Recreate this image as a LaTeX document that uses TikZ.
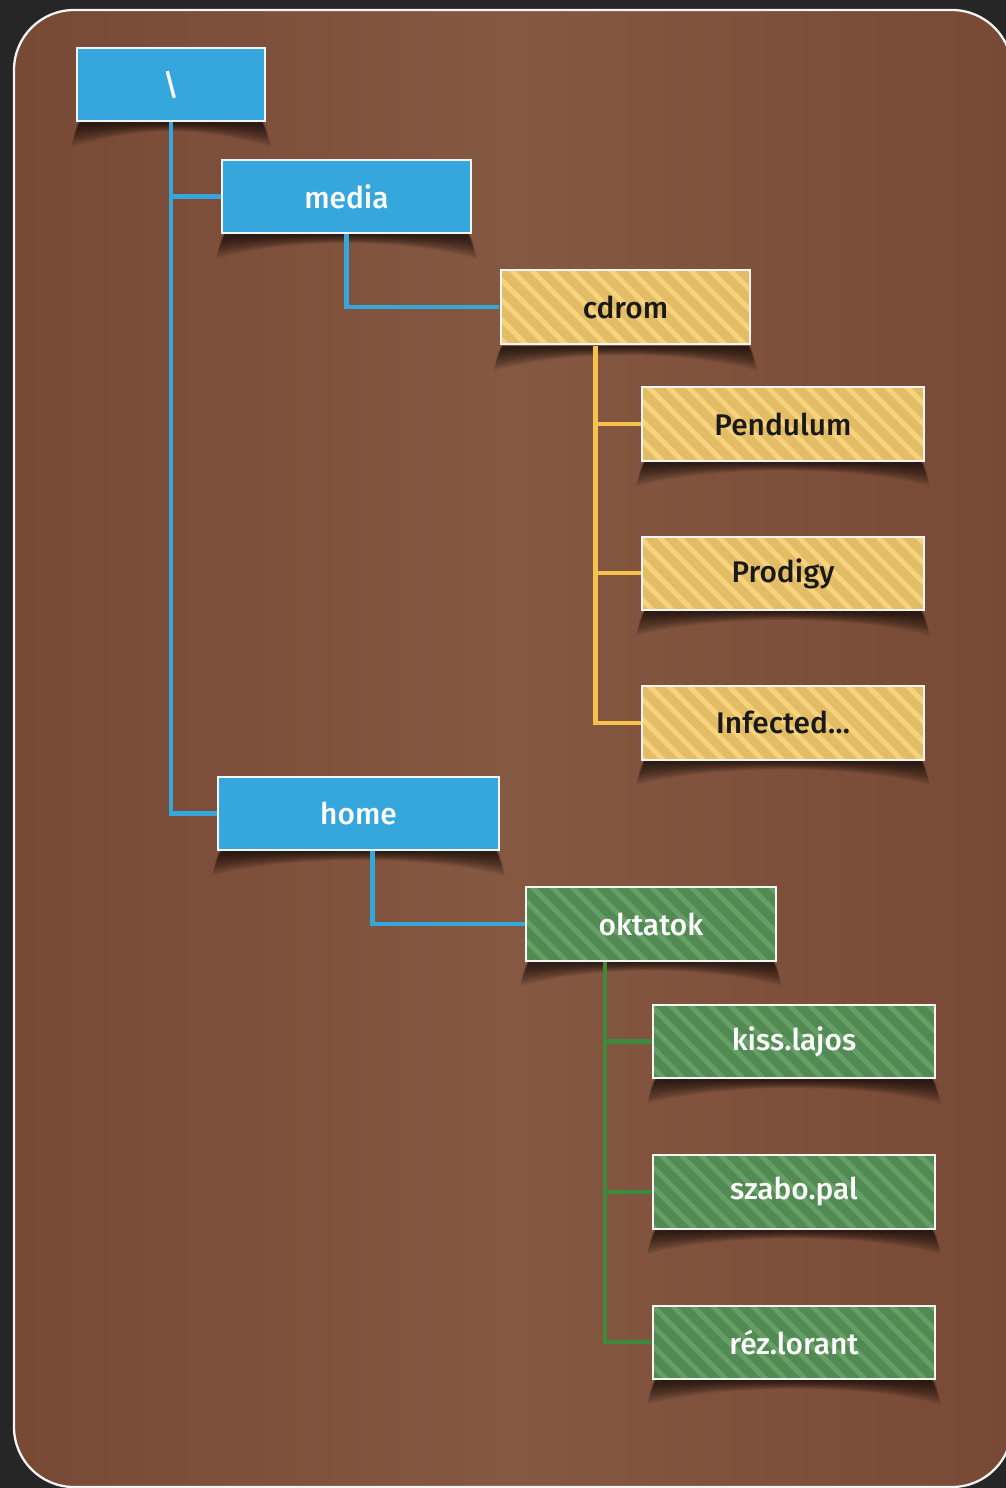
\documentclass[tikz,border=0pt]{standalone}
\usepackage{fontspec}
\setmainfont{Fira Sans}[BoldFont={Fira Sans Medium}]
\usetikzlibrary{positioning,patterns.meta,calc}

\definecolor{backdrop}{HTML}{262626}
\definecolor{panelside}{HTML}{784935}
\definecolor{panelmid}{HTML}{855842}
\definecolor{dirblue}{HTML}{35A7DC}
\definecolor{cdyellow}{HTML}{E3BC66}
\definecolor{cdstripe}{HTML}{F7D37D}
\definecolor{usergreen}{HTML}{528A53}
\definecolor{userstripe}{HTML}{67A066}
\definecolor{cdline}{HTML}{F5C24E}
\definecolor{userline}{HTML}{3E8A3C}
\definecolor{boxedge}{HTML}{F4F4F4}

\pgfdeclarelayer{panel}
\pgfdeclarelayer{shade}
\pgfsetlayers{panel,shade,main}

% curled shadow under a box
\newcommand\curlshadow[1]{%
  \foreach \d in {2,3,...,14}{
    \fill[black, opacity=0.07]
      ([xshift=2pt]#1.south west)
      -- ([xshift={-0.2*\d pt}, yshift={-\d pt}]#1.south west)
      .. controls ([xshift=1.4cm, yshift={-0.15*\d pt}]#1.south west)
         and ([xshift=-1.4cm, yshift={-0.15*\d pt}]#1.south east)
      .. ([xshift={0.2*\d pt}, yshift={-\d pt}]#1.south east)
      -- ([xshift=-2pt]#1.south east) -- cycle;}}

\begin{document}
\begin{tikzpicture}
        [x=0.02cm, y=-0.02cm,
        box/.style={rectangle, draw=boxedge, line width=1.1pt, minimum height=1.47cm, inner sep=0pt, font=\fontsize{17}{20}\selectfont\bfseries},
        sysdir/.style={box, fill=dirblue, text=white},
        cdfile/.style={box, text=black!90, minimum width=5.64cm, preaction={fill=cdyellow}, pattern={Lines[angle=-45, distance=8pt, line width=2.8pt]}, pattern color=cdstripe},
        userdir/.style={box, text=white, minimum width=5.64cm, preaction={fill=usergreen}, pattern={Lines[angle=-45, distance=8pt, line width=2.8pt]}, pattern color=userstripe},
        link/.style={line width=2.3pt}]
        \clip (0,0) rectangle (1006,1488);
        \begin{pgfonlayer}{panel}
        \fill[backdrop] (0,0) rectangle (1006,1488);
        \draw[boxedge, line width=1.3pt, rounded corners=1.2cm, left color=panelside, right color=panelside, middle color=panelmid] (14,10) rectangle (1012,1487);
        \end{pgfonlayer}
        \node[sysdir, minimum width=3.76cm] (root) at (171,84.5) {\textbackslash};
        \node[sysdir, minimum width=4.98cm] (media) at (346.5,196.5) {media};
        \node[cdfile, minimum width=4.98cm] (cdrom) at (625.5,307) {cdrom};
        \node[cdfile] (pend) at (783,424) {Pendulum};
        \node[cdfile, below=1.48cm of pend] (prod) {Prodigy};
        \node[cdfile, below=1.48cm of prod] (inf) {Infected…};
        \node[sysdir, minimum width=5.62cm] (home) at (358.5,813.5) {home};
        \node[userdir, minimum width=5cm] (okt) at (651,924) {oktatok};
        \node[userdir] (kiss) at (794,1041.5) {kiss.lajos};
        \node[userdir, below=1.5cm of kiss] (szabo) {szabo.pal};
        \node[userdir, below=1.5cm of szabo] (rez) {réz.lorant};
        \begin{pgfonlayer}{shade}
        \foreach \n in {root,media,cdrom,pend,prod,inf,home,okt,kiss,szabo,rez}
          {\curlshadow{\n}}
        \end{pgfonlayer}
        \draw[link, dirblue] (root.south) |- (media.west);
        \draw[link, dirblue] (root.south) |- (home.west);
        \draw[link, dirblue] (media.south) |- (cdrom.west);
        \draw[link, dirblue] ([xshift=0.28cm]home.south) |- (okt.west);
        \draw[link, cdline] ([xshift=-0.6cm]cdrom.south) |- (pend.west);
        \draw[link, cdline] ([xshift=-0.6cm]cdrom.south) |- (prod.west);
        \draw[link, cdline] ([xshift=-0.6cm]cdrom.south) |- (inf.west);
        \draw[link, userline] ([xshift=-0.92cm]okt.south) |- (kiss.west);
        \draw[link, userline] ([xshift=-0.92cm]okt.south) |- (szabo.west);
        \draw[link, userline] ([xshift=-0.92cm]okt.south) |- (rez.west);
    \end{tikzpicture}
\end{document}
